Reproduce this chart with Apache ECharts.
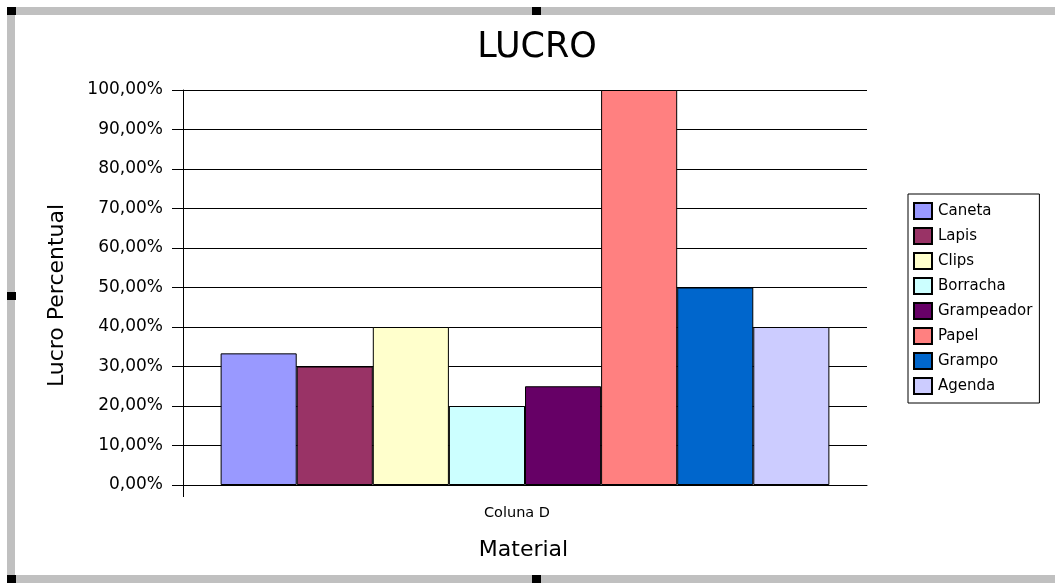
<!DOCTYPE html>
<html>
<head>
<meta charset="utf-8">
<script src="https://cdn.jsdelivr.net/npm/echarts@6/dist/echarts.min.js"></script>
<style>
  html, body { margin: 0; padding: 0; background: #ffffff; }
  #chart { width: 1055px; height: 583px; }
</style>
</head>
<body>
<div id="chart"></div>
<script>
// Profit percentage per material, one column group
const categories = ['Coluna D'];
const materials = ['Caneta', 'Lapis', 'Clips', 'Borracha', 'Grampeador', 'Papel', 'Grampo', 'Agenda'];
const lucroPercentual = [33.33, 30, 40, 20, 25, 100, 50, 40];
const materialColors = ['#9999FF', '#993366', '#FFFFCC', '#CCFFFF', '#660066', '#FF8080', '#0066CC', '#CCCCFF'];
const yTicks = { min: 0, max: 100, interval: 10 };

const FONT = 'DejaVu Sans';

const series = materials.map((name, i) => ({
  name: name,
  type: 'bar',
  xAxisIndex: 0,
  data: [lucroPercentual[i]],
  barGap: '0%',
  barCategoryGap: '11%',
  itemStyle: { color: materialColors[i], borderColor: '#000000', borderWidth: 1 },
  emphasis: { disabled: true }
}));

// Sheet-style selection frame around the chart object
const frameGray = '#c0c0c0';
const handle = (x, y) => ({ type: 'rect', shape: { x: x, y: y, width: 9, height: 8 }, style: { fill: '#000000' }, silent: true });
const frame = [
  { type: 'rect', shape: { x: 7, y: 7, width: 1048, height: 8 }, style: { fill: frameGray }, silent: true },
  { type: 'rect', shape: { x: 7, y: 7, width: 8, height: 576 }, style: { fill: frameGray }, silent: true },
  { type: 'rect', shape: { x: 7, y: 575, width: 1048, height: 8 }, style: { fill: frameGray }, silent: true },
  handle(7, 7), handle(532, 7), handle(7, 292), handle(7, 575), handle(532, 575)
];

const chart = echarts.init(document.getElementById('chart'), null, { renderer: 'canvas' });
chart.setOption({
  backgroundColor: '#ffffff',
  animation: false,
  textStyle: { fontFamily: FONT, color: '#000000' },
  title: {
    text: 'LUCRO',
    left: 532,
    textAlign: 'center',
    top: 25,
    textStyle: { fontFamily: FONT, fontSize: 35, fontWeight: 'normal', color: '#000000' }
  },
  legend: {
    orient: 'vertical',
    left: 908,
    top: 194,
    data: materials,
    itemWidth: 18,
    itemHeight: 16,
    itemGap: 7,
    padding: [8, 7, 8, 5],
    borderColor: '#000000',
    borderWidth: 1,
    icon: 'rect',
    selectedMode: false,
    textStyle: { fontFamily: FONT, fontSize: 15, color: '#000000', padding: [0, 0, 0, 1] }
  },
  grid: { left: 183, right: 188, top: 90, bottom: 98 },
  xAxis: [
    {
      type: 'category',
      data: categories,
      name: 'Material',
      nameLocation: 'middle',
      nameGap: 54,
      nameTextStyle: { fontFamily: FONT, fontSize: 22, color: '#000000', padding: [0, 3, 0, 0] },
      axisLine: { show: true, lineStyle: { color: '#000000', width: 1 } },
      axisTick: { show: false },
      axisLabel: { fontFamily: FONT, fontSize: 14.5, color: '#000000', margin: 21, padding: [0, 16, 0, 0] }
    },
    {
      // single tick at the left end of the category axis
      type: 'value',
      position: 'bottom',
      min: 0,
      max: 1,
      interval: 1,
      axisLine: { show: false },
      axisLabel: { show: false },
      splitLine: { show: false },
      axisTick: { show: true, length: 12, customValues: [0], lineStyle: { color: '#000000' } }
    }
  ],
  yAxis: {
    type: 'value',
    min: yTicks.min,
    max: yTicks.max,
    interval: yTicks.interval,
    name: 'Lucro Percentual',
    nameLocation: 'middle',
    nameGap: 115,
    nameTextStyle: { fontFamily: FONT, fontSize: 22, color: '#000000', padding: [0, 16, 0, 0] },
    axisLine: { show: true, lineStyle: { color: '#000000', width: 1 } },
    axisTick: { show: true, length: 11, lineStyle: { color: '#000000' } },
    splitLine: { show: true, lineStyle: { color: '#000000', width: 1 } },
    axisLabel: {
      fontFamily: FONT,
      fontSize: 17,
      color: '#000000',
      margin: 20,
      formatter: v => v.toFixed(2).replace('.', ',') + '%'
    }
  },
  series: series,
  graphic: frame
});
</script>
</body>
</html>
